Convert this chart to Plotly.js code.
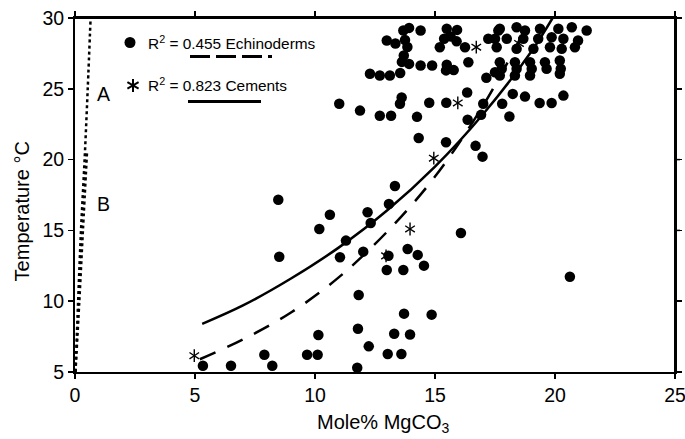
<!DOCTYPE html>
<html>
<head>
<meta charset="utf-8">
<script src="https://cdn.plot.ly/plotly-3.0.1.min.js"></script>
<style>html,body{margin:0;padding:0;background:#fff;}#chart{width:685px;height:439px;}</style>
</head>
<body>
<div id="chart"></div>
<script>
// Echinoderm data (Mole% MgCO3, Temperature °C)
const echX = [
  5.33, 6.5, 7.89, 8.22, 8.51, 8.47, 9.67, 10.11, 10.14, 10.18, 10.62, 11.04, 11.29, 11.82, 11.79, 12.24, 11.76,
  13.03, 13.6, 13.3, 13.96, 13.71, 14.86, 12.99, 13.68, 12.19, 12.32, 12.01, 13.06, 13.86, 14.28, 14.54, 16.08, 20.62,
  13.08, 13.33,
  11.01, 11.875, 12.7, 13.17, 13.54, 13.61, 14.25, 14.32, 14.76, 15.47, 16.34, 16.36, 15.46, 16.69, 16.98,
  16.92, 17.01, 17.8, 18.24, 18.75, 19.36, 19.86, 20.35, 18.1, 17.14,
  12.99, 13.35, 13.75, 13.85, 13.7, 13.62, 13.68, 13.92, 14.4,
  12.29, 12.7, 13.12, 13.55, 13.92, 14.4, 14.88, 15.49, 15.46, 15.78, 16.39,
  15.49, 15.92, 15.38, 15.65, 15.9, 16.25, 15.2, 17.22, 17.64,
  17.7, 18.4, 18.75, 19.375, 20.14, 20.7, 21.32,
  17.5, 17.99, 18.68, 19.3, 19.86, 20.35, 20.96,
  17.57, 18.4, 19.1, 19.79, 20.28, 20.83,
  17.7, 18.33, 18.96, 19.58, 20.2,
  17.78, 18.4, 19.03, 19.65, 20.24,
  17.7, 18.33, 18.96, 17.5, 20.2
];
const echY = [
  5.44, 5.44, 6.22, 5.44, 13.14, 17.17, 6.22, 6.22, 7.61, 15.1, 16.11, 13.1, 14.28, 10.44, 8.06, 6.81, 5.3,
  6.27, 6.27, 7.7, 7.65, 9.12, 9.05, 12.2, 12.2, 16.28, 15.52, 13.5, 13.21, 13.69, 13.27, 12.51, 14.82, 11.73,
  16.87, 18.13,
  23.94, 23.46, 23.1, 23.1, 23.94, 24.38, 23.02, 21.52, 24.02, 24.02, 24.74, 22.82, 21.22, 20.97, 20.21,
  23.16, 23.94, 23.94, 24.64, 24.45, 24.0, 24.0, 24.52, 23.04, 25.78,
  28.41, 28.2, 28.45, 27.95, 27.35, 26.9, 29.12, 29.3, 29.12,
  26.06, 25.94, 25.94, 26.12, 26.76, 26.64, 26.64, 26.7, 26.3, 26.32, 26.88,
  29.24, 29.16, 28.53, 28.7, 28.35, 27.94, 27.94, 28.53, 29.12,
  29.24, 29.35, 29.12, 29.24, 29.24, 29.35, 29.12,
  28.53, 28.53, 28.53, 28.53, 28.64, 28.53, 28.41,
  27.94, 27.82, 27.82, 27.94, 27.82, 27.94,
  26.88, 26.88, 26.88, 26.88, 27.0,
  26.41, 26.41, 26.41, 26.41, 26.41,
  25.94, 25.94, 25.94, 26.17, 26.06
];
// Cement data
const cemX = [4.97, 12.96, 13.96, 14.95, 15.95, 16.72, 18.5];
const cemY = [6.15, 13.2, 15.1, 20.1, 24.0, 27.94, 28.2];

// Regression curves
const echFitX = [5.2, 7, 9, 11, 13, 15, 17, 18.6];
const echFitY = [5.9, 7.3, 9.2, 11.7, 14.9, 18.8, 23.8, 28.7];
const cemFitX = [5.3, 7, 9, 11, 13, 15, 17, 19, 19.9];
const cemFitY = [8.4, 9.7, 11.6, 13.8, 16.4, 19.5, 23.2, 27.6, 30];

// Dotted curves A and B near the y axis
const curveAX = [0.02, 0.13, 0.25, 0.40, 0.53, 0.65];
const curveAY = [5, 10, 15, 20, 25, 30];
const curveBX = [0.02, 0.18, 0.33, 0.50];
const curveBY = [5, 10, 15, 20.5];

const xTicks = [0, 5, 10, 15, 20, 25];
const yTicks = [5, 10, 15, 20, 25, 30];

const FONT = 'Liberation Sans, Arial, Helvetica, sans-serif';

const traces = [
  {x: curveAX, y: curveAY, mode: 'lines', line: {color: '#000', width: 2.5, dash: 'dot', shape: 'spline'}, hoverinfo: 'skip'},
  {x: curveBX, y: curveBY, mode: 'lines', line: {color: '#000', width: 2.5, dash: 'dot', shape: 'spline'}, hoverinfo: 'skip'},
  {x: echFitX, y: echFitY, mode: 'lines', line: {color: '#000', width: 2.5, dash: '17px,13px', shape: 'spline'}, hoverinfo: 'skip'},
  {x: cemFitX, y: cemFitY, mode: 'lines', line: {color: '#000', width: 2.5, shape: 'spline'}, hoverinfo: 'skip'},
  {x: echX, y: echY, mode: 'markers', marker: {color: '#000', size: 10.5, symbol: 'circle'}},
  {x: cemX, y: cemY, mode: 'markers', marker: {color: '#000', size: 8, symbol: 'y-up-open', line: {color: '#000', width: 1.4}}},
  {x: cemX, y: cemY, mode: 'markers', marker: {color: '#000', size: 8, symbol: 'y-down-open', line: {color: '#000', width: 1.4}}}
];

// pixel -> paper helpers for legend decorations (plot area 75..675 x, 17.5..371.7 y)
const px = p => (p - 75) / 600;
const py = p => (371.7 - p) / 354.2;

// mirrored outward ticks on top and right frame edges
const topTicks = xTicks.map(v => ({type: 'line', xref: 'x', yref: 'paper', ysizemode: 'pixel', yanchor: 1,
  x0: v, x1: v, y0: 0, y1: 5, line: {color: '#000', width: 1.5}}));
const rightTicks = yTicks.map(v => ({type: 'line', xref: 'paper', yref: 'y', xsizemode: 'pixel', xanchor: 1,
  x0: 0, x1: 5, y0: v, y1: v, line: {color: '#000', width: 1.5}}));

const layout = {
  width: 685, height: 439,
  margin: {l: 75, r: 10, t: 18, b: 67},
  paper_bgcolor: '#fff', plot_bgcolor: '#fff',
  showlegend: false,
  font: {family: FONT, color: '#000', size: 19.5},
  xaxis: {
    range: [0, 25], tickvals: xTicks, ticktext: xTicks.map(String),
    showgrid: false, zeroline: false, showline: true, linecolor: '#000', linewidth: 2,
    mirror: 'ticks', ticks: 'outside', ticklen: 5, tickwidth: 1.5, tickcolor: '#000',
    ticklabeloverflow: 'allow',
    tickfont: {family: FONT, size: 19.5, color: '#000'}
  },
  yaxis: {
    range: [5, 30], tickvals: yTicks, ticktext: yTicks.map(String),
    showgrid: false, zeroline: false, showline: true, linecolor: '#000', linewidth: 2,
    mirror: 'ticks', ticks: 'outside', ticklen: 5, tickwidth: 1.5, tickcolor: '#000',
    ticklabeloverflow: 'allow',
    tickfont: {family: FONT, size: 19.5, color: '#000'}
  },
  shapes: [
    {type: 'line', xref: 'paper', yref: 'paper', x0: 1, x1: 1, y0: 0, y1: 1,
     line: {color: '#000', width: 2}},
    {type: 'line', xref: 'paper', yref: 'paper', x0: 0, x1: 1, y0: 1, y1: 1,
     line: {color: '#000', width: 2}},
    ...topTicks,
    ...rightTicks,
    {type: 'circle', xref: 'paper', yref: 'paper', xsizemode: 'pixel', ysizemode: 'pixel',
     xanchor: px(130), yanchor: py(42), x0: -5.5, x1: 5.5, y0: -5.5, y1: 5.5,
     fillcolor: '#000', line: {color: '#000', width: 0}},
    {type: 'line', xref: 'paper', yref: 'paper', x0: px(190), x1: px(272), y0: py(56), y1: py(56),
     line: {color: '#000', width: 3, dash: '20px,6px'}},
    {type: 'path', xref: 'paper', yref: 'paper', xsizemode: 'pixel', ysizemode: 'pixel',
     xanchor: px(133), yanchor: py(85),
     path: 'M0,-6.5L0,6.5M-5.6,-3.25L5.6,3.25M-5.6,3.25L5.6,-3.25',
     line: {color: '#000', width: 2}},
    {type: 'line', xref: 'paper', yref: 'paper', x0: px(188), x1: px(261), y0: py(101), y1: py(101),
     line: {color: '#000', width: 3}}
  ],
  annotations: [
    {xref: 'paper', yref: 'paper', x: px(146), y: py(42), xanchor: 'left', yanchor: 'middle', showarrow: false,
     text: 'R<sup>2</sup> = 0.455 Echinoderms', font: {family: FONT, size: 15.4, color: '#000'}},
    {xref: 'paper', yref: 'paper', x: px(146), y: py(84), xanchor: 'left', yanchor: 'middle', showarrow: false,
     text: 'R<sup>2</sup> = 0.823 Cements', font: {family: FONT, size: 15.4, color: '#000'}},
    {xref: 'x', yref: 'y', x: 1.17, y: 24.66, xanchor: 'center', yanchor: 'middle', showarrow: false,
     text: 'A', font: {family: FONT, size: 19.5, color: '#000'}},
    {xref: 'x', yref: 'y', x: 1.17, y: 16.89, xanchor: 'center', yanchor: 'middle', showarrow: false,
     text: 'B', font: {family: FONT, size: 19.5, color: '#000'}},
    // axis titles
    {xref: 'paper', yref: 'paper', x: px(383), y: py(423), xanchor: 'center', yanchor: 'middle', showarrow: false,
     text: 'Mole% MgCO<sub>3</sub>', font: {family: FONT, size: 20, color: '#000'}},
    {xref: 'paper', yref: 'paper', x: px(22), y: py(211), xanchor: 'center', yanchor: 'middle', showarrow: false,
     textangle: -90, text: 'Temperature °C', font: {family: FONT, size: 20, color: '#000'}}
  ]
};

Plotly.newPlot('chart', traces, layout, {displayModeBar: false, staticPlot: true});
</script>
</body>
</html>
